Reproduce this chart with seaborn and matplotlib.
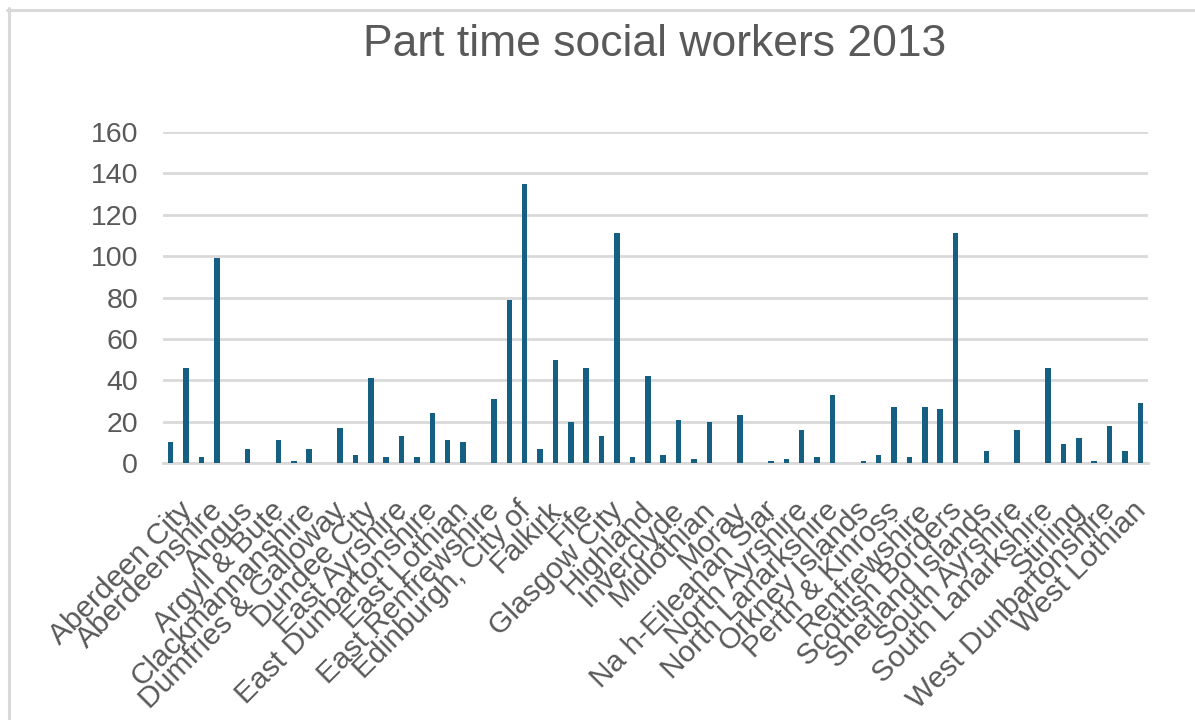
import matplotlib
matplotlib.use("Agg")
import matplotlib.pyplot as plt
import matplotlib.lines as mlines
from matplotlib.transforms import ScaledTranslation
import seaborn as sns
import pandas as pd

title = "Part time social workers 2013"

councils = [
    "Aberdeen City", "Aberdeenshire", "Angus", "Argyll & Bute", "Clackmannanshire",
    "Dumfries & Galloway", "Dundee City", "East Ayrshire", "East Dunbartonshire",
    "East Lothian", "East Renfrewshire", "Edinburgh, City of", "Falkirk", "Fife",
    "Glasgow City", "Highland", "Inverclyde", "Midlothian", "Moray", "Na h-Eileanan Siar",
    "North Ayrshire", "North Lanarkshire", "Orkney Islands", "Perth & Kinross",
    "Renfrewshire", "Scottish Borders", "Shetland Islands", "South Ayrshire",
    "South Lanarkshire", "Stirling", "West Dunbartonshire", "West Lothian",
]

# 64 category rows (every other label shown, as in the reference)
values = [
    10, 46, 3, 99, 0, 7, 0, 11,
    1, 7, 0, 17, 4, 41, 3, 13,
    3, 24, 11, 10, 0, 31, 79, 135,
    7, 50, 20, 46, 13, 111, 3, 42,
    4, 21, 2, 20, 0, 23, 0, 1,
    2, 16, 3, 33, 0, 1, 4, 27,
    3, 27, 26, 111, 0, 6, 0, 16,
    0, 46, 9, 12, 1, 18, 6, 29,
]

y_ticks = [0, 20, 40, 60, 80, 100, 120, 140, 160]

df = pd.DataFrame({"row": list(range(len(values))), "value": values})

sns.set_theme(style="white")
plt.rcParams["font.family"] = ["Liberation Sans", "DejaVu Sans"]

TXT = "#595959"
GRID = "#D9D9D9"
BAR = "#156082"

W, H = 1195, 720
fig = plt.figure(figsize=(W / 100, H / 100), dpi=100)
ax = fig.add_axes([163 / W, 1 - 463 / H, (1148 - 163) / W, (463 - 132) / H])

sns.barplot(data=df, x="row", y="value", order=list(range(len(values))),
            color=BAR, saturation=1, width=0.36, linewidth=0, ax=ax, zorder=3)

ax.set_ylim(0, 160)
ax.set_xlim(-0.5, len(values) - 0.5)
ax.set_yticks(y_ticks)
ax.set_yticklabels([str(t) for t in y_ticks], fontsize=20.5, color=TXT)
ax.yaxis.grid(True, color=GRID, linewidth=2.0, zorder=0)
ax.set_axisbelow(True)
for s in ["top", "right", "left"]:
    ax.spines[s].set_visible(False)
ax.spines["bottom"].set_color(GRID)
ax.spines["bottom"].set_linewidth(2.0)
ax.tick_params(axis="both", length=0)
ax.tick_params(axis="y", pad=18)
ax.set_xlabel("")
ax.set_ylabel("")

tick_pos = list(range(0, len(values), 2))
ax.set_xticks(tick_pos)
ax.set_xticklabels(councils, rotation=45, ha="right", va="top",
                   rotation_mode="anchor", fontsize=21.5, color=TXT)
ax.tick_params(axis="x", pad=24)
off = ScaledTranslation(7 / 100, 0, fig.dpi_scale_trans)
for lbl in ax.get_xticklabels():
    lbl.set_transform(lbl.get_transform() + off)

fig.text(655 / W, 1 - 45 / H, title, ha="center", va="center", fontsize=32, color=TXT)

# chart border (top and left visible)
fig.add_artist(mlines.Line2D([7 / W, 1], [1 - 9.5 / H, 1 - 9.5 / H],
                             transform=fig.transFigure, color=GRID, linewidth=2.2))
fig.add_artist(mlines.Line2D([8.5 / W, 8.5 / W], [0, 1 - 8 / H],
                             transform=fig.transFigure, color=GRID, linewidth=2.2))

fig.savefig("out.png", dpi=100, facecolor="white")
